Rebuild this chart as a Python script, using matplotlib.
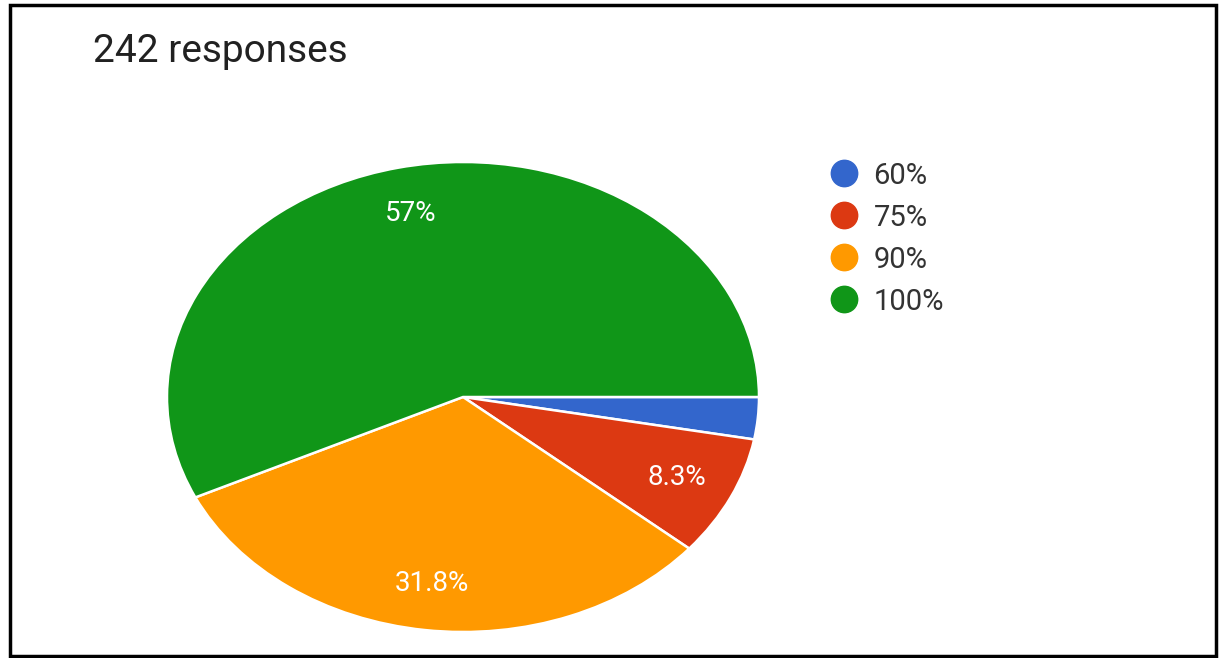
import matplotlib.pyplot as plt
from matplotlib.lines import Line2D
from matplotlib.patches import Rectangle

plt.rcParams['font.family'] = ['Roboto', 'DejaVu Sans']

# answer counts (242 responses in total)
labels = ['60%', '75%', '90%', '100%']
counts = [7, 20, 77, 138]
colors = ['#3366CC', '#DC3912', '#FF9900', '#109618']
title = '242 responses'


def fmt_pct(p):
    # google forms hides the label on tiny slices
    if p < 5:
        return ''
    return ('%.1f' % p).rstrip('0').rstrip('.') + '%'


W, H = 1219, 658
fig = plt.figure(figsize=(W / 100, H / 100), dpi=100)
fig.patch.set_facecolor('white')

# pie is stretched sideways in the screenshot, so the axes aren't square
ax = fig.add_axes([167 / W, 26 / H, 592 / W, 470 / H])
wedges, texts, autotexts = ax.pie(counts, colors=colors, startangle=0,
                                  counterclock=False, autopct=fmt_pct,
                                  pctdistance=0.8, radius=1,
                                  wedgeprops=dict(edgecolor='white', linewidth=1.8),
                                  textprops=dict(color='white', fontsize=20))
ax.set_aspect('auto')
ax.set_xlim(-1, 1)
ax.set_ylim(-1, 1)
ax.axis('off')

fig.text(93 / W, 1 - 52 / H, title, fontsize=28, color='#212121', va='center')

handles = [Line2D([], [], marker='o', linestyle='', markersize=19,
                  markerfacecolor=c, markeredgecolor=c) for c in colors]
fig.legend(handles, labels, loc='upper left', bbox_to_anchor=(818 / W, 1 - 150 / H),
           frameon=False, fontsize=21, labelspacing=0.48, handletextpad=0.5,
           handlelength=1.0, labelcolor='#333333', borderaxespad=0)

# screenshot frame
fig.add_artist(Rectangle((10 / W, 2 / H), 1 - 13 / W, 1 - 7 / H, transform=fig.transFigure,
                         fill=False, edgecolor='black', linewidth=2.5))

fig.savefig('out.png', dpi=100)
